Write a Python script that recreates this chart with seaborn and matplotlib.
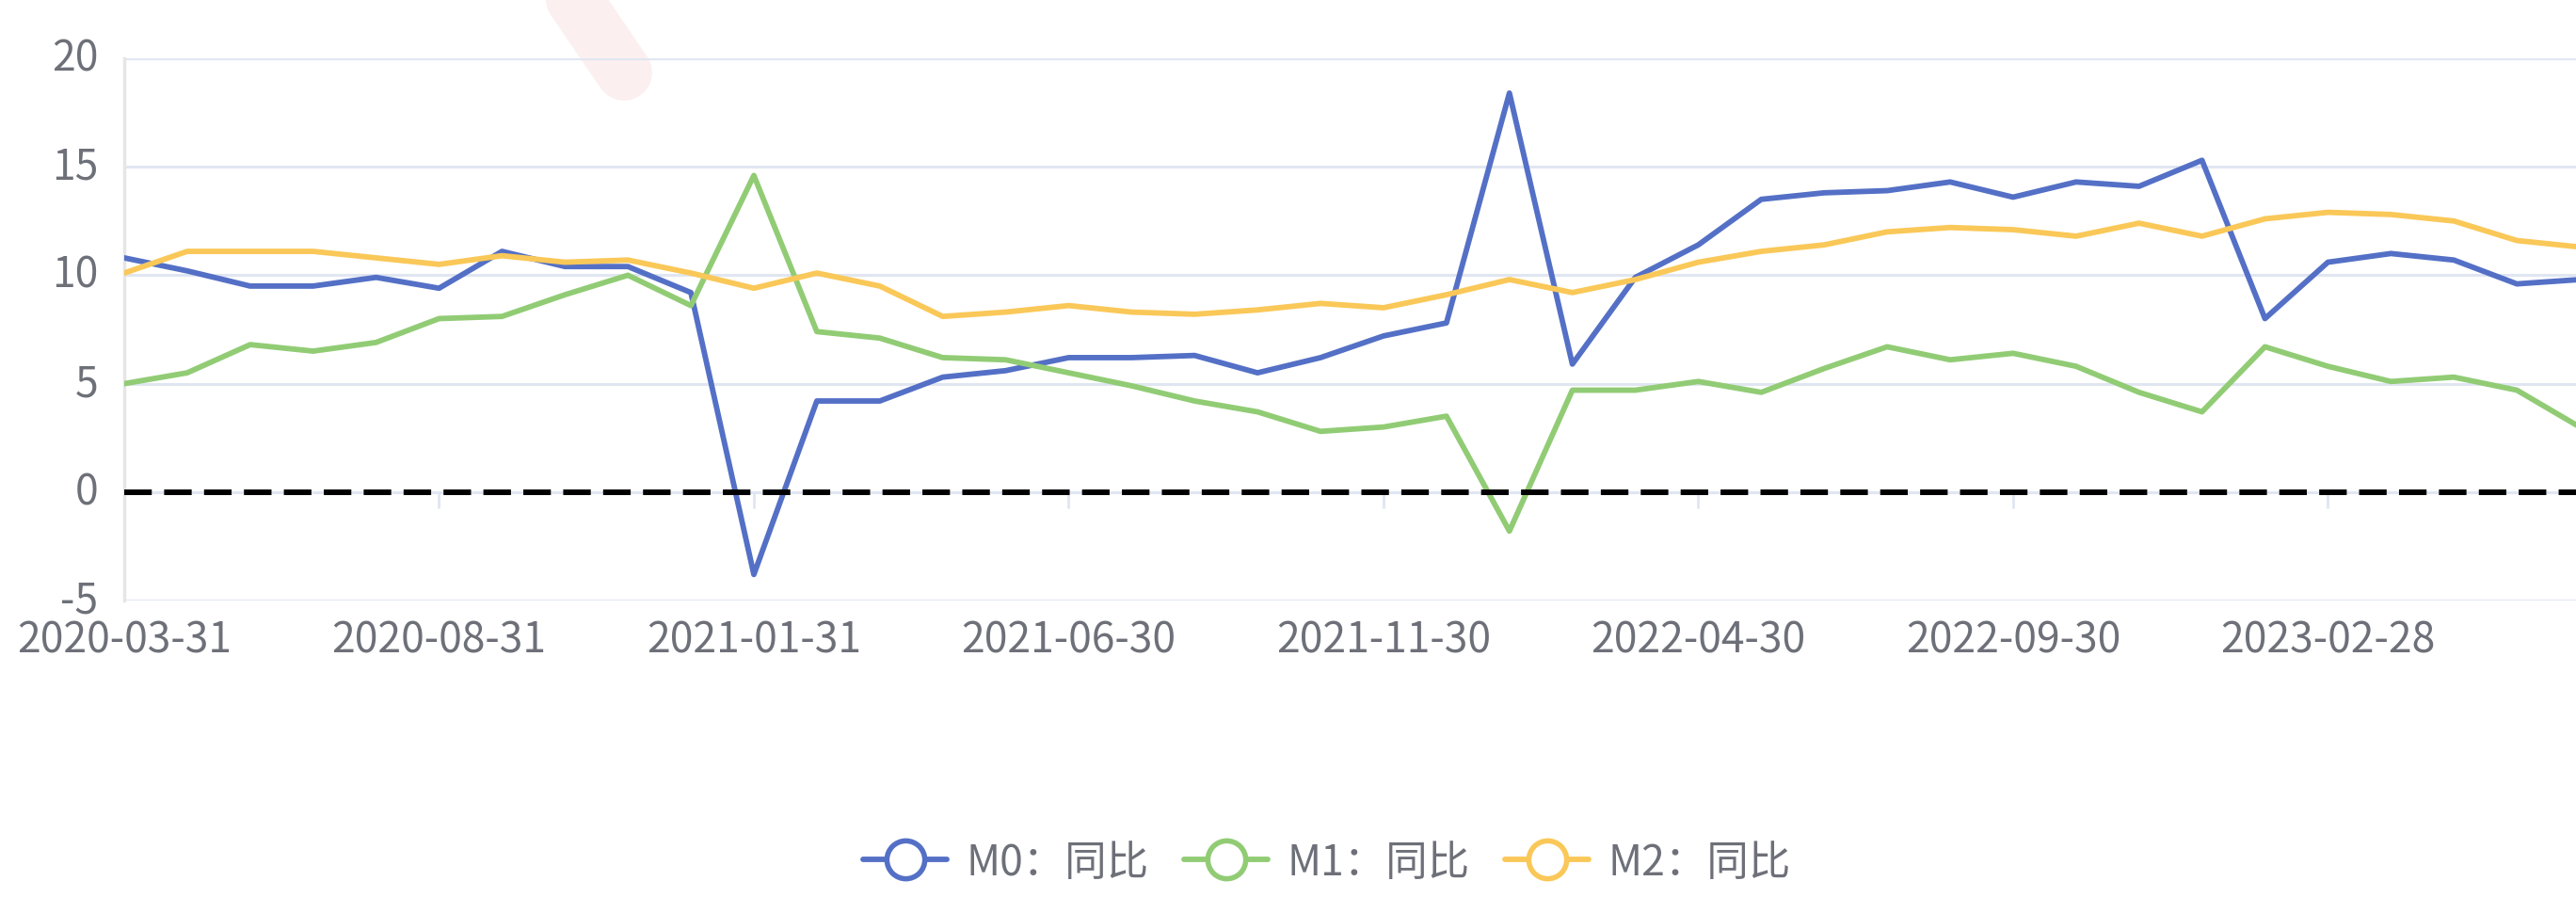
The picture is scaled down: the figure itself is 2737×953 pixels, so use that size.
import pandas as pd
import matplotlib.pyplot as plt
import matplotlib.transforms as mtransforms
import seaborn as sns
from matplotlib.lines import Line2D

## monthly dates, 2020-03-31 .. 2023-06-30
dates = pd.date_range('2020-03-31', periods=40, freq='ME').strftime('%Y-%m-%d').tolist()

## year-on-year growth (%)
m0_yoy = [10.8, 10.2, 9.5, 9.5, 9.9, 9.4, 11.1, 10.4, 10.4, 9.2,
          -3.8, 4.2, 4.2, 5.3, 5.6, 6.2, 6.2, 6.3, 5.5, 6.2,
          7.2, 7.8, 18.4, 5.9, 9.9, 11.4, 13.5, 13.8, 13.9, 14.3,
          13.6, 14.3, 14.1, 15.3, 8.0, 10.6, 11.0, 10.7, 9.6, 9.8]
m1_yoy = [5.0, 5.5, 6.8, 6.5, 6.9, 8.0, 8.1, 9.1, 10.0, 8.6,
          14.6, 7.4, 7.1, 6.2, 6.1, 5.5, 4.9, 4.2, 3.7, 2.8,
          3.0, 3.5, -1.8, 4.7, 4.7, 5.1, 4.6, 5.7, 6.7, 6.1,
          6.4, 5.8, 4.6, 3.7, 6.7, 5.8, 5.1, 5.3, 4.7, 3.0]
m2_yoy = [10.1, 11.1, 11.1, 11.1, 10.8, 10.5, 10.9, 10.6, 10.7, 10.1,
          9.4, 10.1, 9.5, 8.1, 8.3, 8.6, 8.3, 8.2, 8.4, 8.7,
          8.5, 9.1, 9.8, 9.2, 9.8, 10.6, 11.1, 11.4, 12.0, 12.2,
          12.1, 11.8, 12.4, 11.8, 12.6, 12.9, 12.8, 12.5, 11.6, 11.3]

series_names = ['M0：同比', 'M1：同比', 'M2：同比']
colors = ['#5470c6', '#91cc75', '#fac858']

## long format for seaborn
df = pd.DataFrame({'date': dates, 'M0：同比': m0_yoy, 'M1：同比': m1_yoy, 'M2：同比': m2_yoy})
df['idx'] = range(len(df))
long_df = df.melt(id_vars=['date', 'idx'], value_vars=series_names, var_name='series', value_name='yoy')

sns.set_style('white')
plt.rcParams['font.family'] = ['Noto Sans CJK SC', 'DejaVu Sans']
plt.rcParams['axes.unicode_minus'] = False

fig = plt.figure(figsize=(27.37, 9.54), dpi=100)
ax = fig.add_axes([132 / 2737, 1 - 639 / 954, 1 - 132 / 2737, 576 / 954])

## watermark fragment (behind the grid)
ax.add_line(Line2D([603 / 2737, 663 / 2737], [1 + 10 / 954, 1 - 78 / 954], transform=fig.transFigure,
                   color='#fcefef', lw=43, solid_capstyle='round', clip_on=False, zorder=0.2))

sns.lineplot(data=long_df, x='idx', y='yoy', hue='series', palette=colors, hue_order=series_names,
             lw=4.2, legend=False, ax=ax, zorder=3)

## zero line
ax.axhline(0, color='black', lw=4.3, dashes=(4.9, 2.2), zorder=4)

tick_idx = list(range(0, len(dates), 5))
ax.vlines(tick_idx, -0.75, 0, color='#e0e6f1', lw=2, zorder=1)

ax.set_xlim(0, 38.94)
ax.set_ylim(-5, 20)
ax.set_yticks([-5, 0, 5, 10, 15, 20])
ax.set_xticks(tick_idx)
ax.set_xticklabels([dates[i] for i in tick_idx])
ax.tick_params(axis='both', length=0, labelsize=32, labelcolor='#6e7079')
ax.tick_params(axis='y', pad=20)
ax.tick_params(axis='x', pad=13)
ax.set_xlabel('')
ax.set_ylabel('')

## y labels sit slightly above their grid lines
shift = mtransforms.ScaledTranslation(0, 4 / 72, fig.dpi_scale_trans)
for lbl in ax.get_yticklabels():
    lbl.set_transform(lbl.get_transform() + shift)

ax.yaxis.grid(True, color='#e0e6f1', lw=2.2)
ax.xaxis.grid(False)
for s in ['top', 'right', 'bottom']:
    ax.spines[s].set_visible(False)
ax.spines['left'].set_color('#e6e6e6')
ax.spines['left'].set_linewidth(2.5)

## legend
handles = [Line2D([0], [0], color=c, lw=4.2, marker='o', markersize=29, markerfacecolor='white',
                  markeredgecolor=c, markeredgewidth=4) for c in colors]
fig.legend(handles, series_names, loc='center', bbox_to_anchor=(1410 / 2737, 1 - 917 / 954),
           ncol=3, frameon=False, fontsize=32, labelcolor='#6e7079', handlelength=2.0,
           handletextpad=0.45, columnspacing=0.85)

plt.savefig('out.png', dpi=100)
